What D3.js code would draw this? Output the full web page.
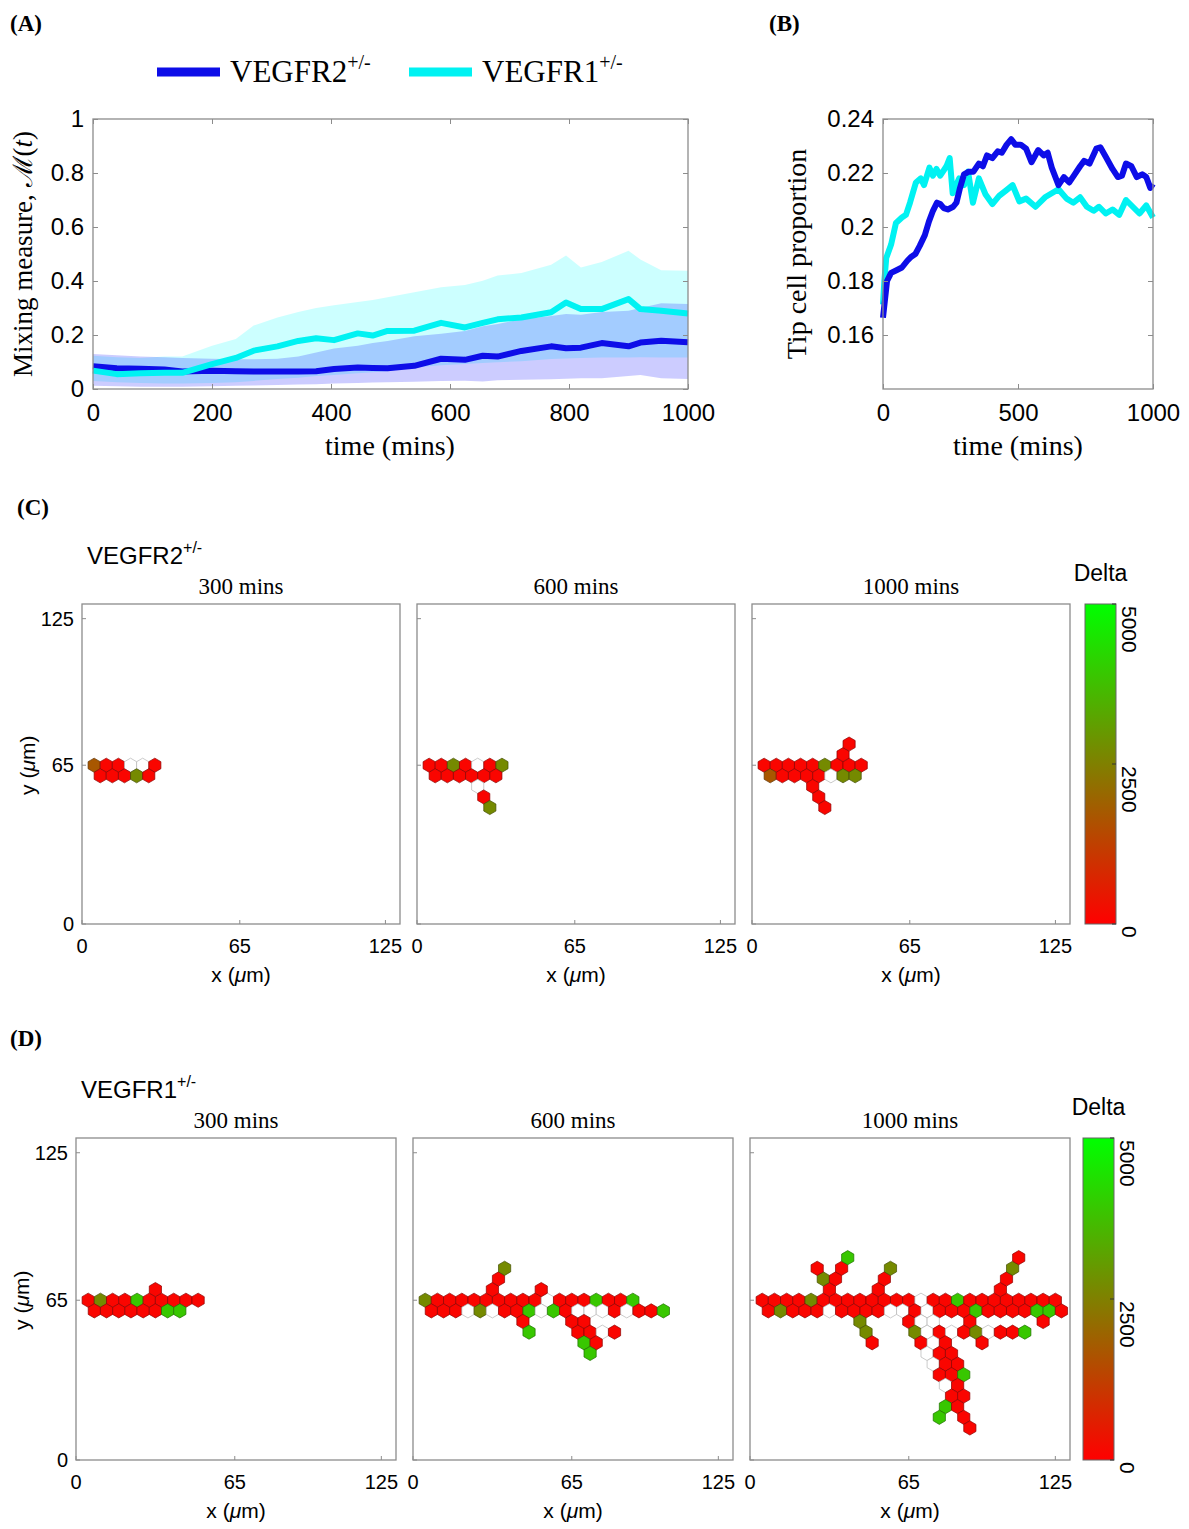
<!DOCTYPE html>
<html><head><meta charset="utf-8">
<script src="https://cdn.jsdelivr.net/npm/d3@7"></script>
<style>
body{margin:0;background:#fff;}
.sans{font-family:"Liberation Sans",Arial,sans-serif;}
.serif{font-family:"Liberation Serif","Times New Roman",serif;}
</style></head><body>
<svg id="fig" width="1189" height="1529"></svg>
<script>
// ---- panel A: mixing measure (mean and band) ----
var mixTimes = [0, 40, 80, 120, 150, 200, 240, 270, 310, 345, 375, 405, 445, 470, 495, 540, 585, 625, 655, 680, 720, 770, 795, 820, 855, 900, 920, 955, 1000];
var mixR2   = [0.084, 0.077, 0.075, 0.072, 0.065, 0.068, 0.066, 0.065, 0.065, 0.065, 0.066, 0.074, 0.080, 0.078, 0.077, 0.086, 0.112, 0.108, 0.123, 0.120, 0.141, 0.158, 0.151, 0.153, 0.170, 0.158, 0.172, 0.179, 0.173];
var mixR2Lo = [0.012, 0.010, 0.008, 0.008, 0.008, 0.010, 0.012, 0.013, 0.015, 0.017, 0.018, 0.020, 0.022, 0.024, 0.025, 0.027, 0.030, 0.031, 0.028, 0.032, 0.034, 0.036, 0.038, 0.040, 0.040, 0.048, 0.052, 0.040, 0.037];
var mixR2Hi = [0.130, 0.125, 0.120, 0.118, 0.115, 0.112, 0.110, 0.110, 0.112, 0.120, 0.135, 0.150, 0.160, 0.170, 0.178, 0.195, 0.205, 0.215, 0.232, 0.241, 0.258, 0.270, 0.278, 0.275, 0.285, 0.290, 0.300, 0.318, 0.315];
var mixR1   = [0.068, 0.055, 0.058, 0.060, 0.060, 0.092, 0.115, 0.142, 0.158, 0.178, 0.188, 0.181, 0.206, 0.198, 0.215, 0.216, 0.245, 0.228, 0.245, 0.258, 0.265, 0.284, 0.320, 0.296, 0.296, 0.333, 0.296, 0.290, 0.280];
var mixR1Lo = [0.030, 0.025, 0.022, 0.020, 0.020, 0.022, 0.025, 0.030, 0.037, 0.042, 0.048, 0.052, 0.058, 0.062, 0.066, 0.080, 0.088, 0.093, 0.096, 0.099, 0.103, 0.111, 0.113, 0.115, 0.117, 0.117, 0.118, 0.117, 0.117];
var mixR1Hi = [0.123, 0.118, 0.115, 0.120, 0.120, 0.160, 0.185, 0.235, 0.265, 0.285, 0.300, 0.310, 0.322, 0.330, 0.340, 0.358, 0.377, 0.385, 0.401, 0.420, 0.430, 0.460, 0.494, 0.450, 0.470, 0.512, 0.480, 0.440, 0.438];
var mixTicksX = [0, 200, 400, 600, 800, 1000];
var mixTicksY = [0, 0.2, 0.4, 0.6, 0.8, 1];

// ---- panel B: tip cell proportion ----
var tipTimesR2 = [0, 15, 30, 50, 70, 90, 105, 120, 136, 155, 170, 185, 200, 212, 225, 240, 260, 272, 284, 300, 318, 335, 355, 370, 385, 405, 425, 440, 458, 475, 490, 510, 530, 550, 575, 595, 610, 625, 650, 670, 690, 710, 730, 745, 765, 790, 805, 825, 850, 870, 885, 900, 920, 940, 960, 975, 990, 1000];
var tipR2 = [0.1664, 0.180, 0.183, 0.184, 0.185, 0.1875, 0.189, 0.190, 0.193, 0.197, 0.202, 0.206, 0.209, 0.2085, 0.207, 0.2065, 0.2075, 0.209, 0.214, 0.2195, 0.2205, 0.2205, 0.2235, 0.2225, 0.2265, 0.2255, 0.228, 0.2275, 0.2305, 0.2325, 0.2305, 0.2305, 0.229, 0.224, 0.2285, 0.2265, 0.2275, 0.222, 0.2155, 0.2185, 0.2165, 0.2195, 0.2225, 0.2245, 0.2235, 0.229, 0.2295, 0.226, 0.2215, 0.2185, 0.219, 0.2235, 0.2225, 0.2185, 0.2195, 0.2185, 0.2145, 0.216];
var tipTimesR1 = [0, 5, 12, 30, 48, 70, 85, 100, 122, 140, 152, 172, 185, 198, 212, 235, 247, 258, 282, 300, 315, 333, 355, 380, 405, 430, 455, 480, 505, 530, 565, 600, 625, 650, 680, 705, 730, 755, 780, 800, 825, 850, 875, 900, 925, 950, 975, 1000];
var tipR1 = [0.1713, 0.180, 0.1885, 0.1935, 0.2015, 0.2035, 0.2045, 0.209, 0.2165, 0.218, 0.2155, 0.222, 0.219, 0.2215, 0.219, 0.2225, 0.2255, 0.2125, 0.218, 0.2155, 0.2205, 0.209, 0.218, 0.212, 0.2085, 0.2115, 0.2135, 0.2155, 0.2095, 0.2105, 0.2075, 0.211, 0.2125, 0.214, 0.2105, 0.209, 0.211, 0.2075, 0.206, 0.2075, 0.205, 0.2065, 0.2045, 0.210, 0.2075, 0.205, 0.208, 0.2035];
var tipTicksX = [0, 500, 1000];
var tipTicksY = [0.16, 0.18, 0.2, 0.22, 0.24];

// ---- panels C, D: lattice snapshots ----
var snapTitles = ["300 mins", "600 mins", "1000 mins"];
var gridTicks = [0, 65, 125];
var deltaTicks = [0, 2500, 5000];
// each cell: [k, r, delta]  x = 2.5*k um, r = rows below the y = 65 row, delta null = no Delta shown
var cellsR2_300 = [[2,0,1700],[4,0,100],[6,0,100],[8,0,null],[10,0,null],[12,0,100],
  [3,1,100],[5,1,100],[7,1,100],[9,1,2700],[11,1,100]];
var cellsR2_600 = [[2,0,100],[4,0,100],[6,0,2700],[8,0,100],[10,0,null],[12,0,100],[14,0,2700],
  [3,1,100],[5,1,100],[7,1,100],[9,1,100],[11,1,100],[13,1,100],[10,2,null],[11,3,100],[12,4,2700]];
var cellsR2_1000 = [[2,0,100],[4,0,100],[6,0,100],[8,0,100],[10,0,100],[12,0,2700],[14,0,100],[16,0,100],[18,0,100],
  [3,1,1700],[5,1,100],[7,1,100],[9,1,100],[11,1,100],[13,1,null],[15,1,2700],[17,1,2700],
  [15,-1,100],[16,-2,100],[10,2,100],[11,3,100],[12,4,100]];
var cellsR1_300 = [[2,0,100],[4,0,2700],[6,0,100],[8,0,100],[10,0,3900],[12,0,100],[14,0,100],[16,0,100],[18,0,100],[20,0,100],
  [3,1,100],[5,1,100],[7,1,100],[9,1,100],[11,1,100],[13,1,100],[15,1,3900],[17,1,3900],[13,-1,100]];
var cellsR1_600 = [[2,0,2700],[4,0,100],[6,0,100],[8,0,100],[10,0,100],[12,0,100],[14,0,100],[16,0,100],[18,0,100],[20,0,100],
  [22,0,null],[24,0,100],[26,0,100],[28,0,100],[30,0,3900],[32,0,100],[34,0,100],[36,0,3900],
  [3,1,100],[5,1,100],[7,1,100],[9,1,null],[11,1,2700],[13,1,null],[15,1,100],[17,1,100],[19,1,3900],[21,1,null],
  [23,1,3900],[25,1,100],[27,1,null],[29,1,null],[31,1,null],[33,1,100],[35,1,null],[37,1,100],[39,1,100],[41,1,3900],
  [13,-1,100],[21,-1,100],[14,-2,100],[15,-3,2700],
  [18,2,100],[26,2,100],[28,2,100],[19,3,3900],[27,3,100],[29,3,100],[31,3,null],[33,3,100],[28,4,3900],[30,4,100],[29,5,3900]];
var cellsR1_1000 = [[2,0,100],[4,0,100],[6,0,100],[8,0,100],[10,0,2700],[12,0,100],[14,0,100],[16,0,100],[18,0,100],[20,0,100],
  [22,0,100],[24,0,100],[26,0,100],[28,0,null],[30,0,100],[32,0,100],[34,0,3900],[36,0,100],[38,0,100],[40,0,100],
  [42,0,100],[44,0,100],[46,0,100],[48,0,100],[50,0,100],
  [3,1,100],[5,1,2700],[7,1,100],[9,1,100],[11,1,100],[13,1,null],[15,1,100],[17,1,100],[19,1,100],[21,1,100],
  [23,1,null],[25,1,null],[27,1,100],[29,1,null],[31,1,100],[33,1,100],[35,1,100],[37,1,3900],[39,1,100],[41,1,100],
  [43,1,100],[45,1,100],[47,1,3900],[49,1,3900],[51,1,100],
  [13,-1,100],[21,-1,100],[41,-1,100],[12,-2,2700],[14,-2,100],[22,-2,100],[42,-2,100],
  [11,-3,100],[15,-3,100],[23,-3,2700],[43,-3,2700],[16,-4,3900],[44,-4,100],
  [18,2,2700],[26,2,100],[28,2,null],[30,2,null],[36,2,100],[48,2,100],
  [19,3,2700],[27,3,2700],[29,3,null],[31,3,100],[33,3,null],[35,3,100],[37,3,2700],[39,3,null],[41,3,100],[43,3,100],[45,3,3900],
  [20,4,100],[28,4,100],[30,4,null],[32,4,100],[38,4,100],
  [29,5,null],[31,5,100],[33,5,100],[30,6,null],[32,6,100],[34,6,100],[31,7,100],[33,7,100],[35,7,3900],
  [32,8,null],[34,8,100],[33,9,100],[35,9,100],[32,10,3900],[34,10,100],[31,11,3900],[35,11,100],[36,12,100]];

var svg = d3.select("#fig");
var frameColor = "#8c8c8c";
var blue = "#0d0de8", cyan = "#00f2f2";

function frame(g, x, y, xt, yt, fx, fy, fontSize) {
  var x0 = x.range()[0], x1 = x.range()[1], y0 = y.range()[0], y1 = y.range()[1];
  g.append("rect").attr("x", x0).attr("y", y1).attr("width", x1 - x0).attr("height", y0 - y1)
    .attr("fill", "none").attr("stroke", frameColor).attr("stroke-width", 1.3);
  var axes = [
    [d3.axisBottom(x).tickValues(xt).tickFormat(fx), "translate(0," + y0 + ")"],
    [d3.axisTop(x).tickValues(xt).tickFormat(""), "translate(0," + y1 + ")"],
    [d3.axisLeft(y).tickValues(yt).tickFormat(fy), "translate(" + x0 + ",0)"],
    [d3.axisRight(y).tickValues(yt).tickFormat(""), "translate(" + x1 + ",0)"]
  ];
  axes.forEach(function(a) {
    var ax = g.append("g").attr("transform", a[1])
      .call(a[0].tickSizeInner(-5).tickSizeOuter(0).tickPadding(9));
    ax.select(".domain").remove();
    ax.selectAll("line").attr("stroke", frameColor);
    ax.selectAll("text").attr("class", "sans").attr("font-size", fontSize).attr("fill", "#000");
  });
}

// panel labels
[["(A)", 10, 31], ["(B)", 769, 31], ["(C)", 17, 515], ["(D)", 10, 1046]].forEach(function(p) {
  svg.append("text").attr("class", "serif").attr("font-weight", "bold").attr("font-size", 23)
    .attr("x", p[1]).attr("y", p[2]).text(p[0]);
});

// legend
[[blue, 157, "VEGFR2"], [cyan, 409, "VEGFR1"]].forEach(function(l) {
  svg.append("line").attr("x1", l[1]).attr("x2", l[1] + 63).attr("y1", 72).attr("y2", 72)
    .attr("stroke", l[0]).attr("stroke-width", 9);
  var t = svg.append("text").attr("class", "serif").attr("font-size", 31).attr("x", l[1] + 73).attr("y", 82);
  t.append("tspan").text(l[2]);
  t.append("tspan").attr("font-size", 20).attr("dy", -13).text("+/-");
});

// ---- panel A ----
(function() {
  var x = d3.scaleLinear().domain([0, 1000]).range([93, 688]);
  var y = d3.scaleLinear().domain([0, 1]).range([389, 119]);
  var g = svg.append("g");
  var band = function(lo, hi) {
    return d3.area().x(function(d, i) { return x(mixTimes[i]); })
      .y0(function(d, i) { return y(lo[i]); }).y1(function(d, i) { return y(hi[i]); });
  };
  var line = function(v) {
    return d3.line().x(function(d, i) { return x(mixTimes[i]); }).y(function(d, i) { return y(v[i]); });
  };
  g.append("path").attr("d", band(mixR1Lo, mixR1Hi)(mixTimes)).attr("fill", "#00ffff").attr("fill-opacity", 0.2);
  g.append("path").attr("d", band(mixR2Lo, mixR2Hi)(mixTimes)).attr("fill", "#0000ff").attr("fill-opacity", 0.2);
  g.append("path").attr("d", line(mixR2)(mixTimes)).attr("fill", "none").attr("stroke", blue)
    .attr("stroke-width", 6).attr("stroke-linejoin", "round");
  g.append("path").attr("d", line(mixR1)(mixTimes)).attr("fill", "none").attr("stroke", cyan)
    .attr("stroke-width", 6).attr("stroke-linejoin", "round");
  frame(g, x, y, mixTicksX, mixTicksY, d3.format("d"), function(d) { return String(d); }, 24);
  g.selectAll("g.tick text").filter(function() { return this.getAttribute("dy") === "0.71em"; }).attr("dy", "0.95em");
  g.append("text").attr("class", "serif").attr("font-size", 28).attr("text-anchor", "middle")
    .attr("x", 390).attr("y", 455).text("time (mins)");
  var yl = g.append("text").attr("class", "serif").attr("font-size", 27).attr("text-anchor", "middle")
    .attr("transform", "translate(32,254) rotate(-90)");
  yl.append("tspan").text("Mixing measure, ");
  yl.append("tspan").text("\u2133");
  yl.append("tspan").text("(");
  yl.append("tspan").attr("font-style", "italic").text("t");
  yl.append("tspan").text(")");
})();

// ---- panel B ----
(function() {
  var x = d3.scaleLinear().domain([0, 1000]).range([883, 1153]);
  var y = d3.scaleLinear().domain([0.14, 0.24]).range([389, 119]);
  var g = svg.append("g");
  var line = function(ts) {
    return d3.line().x(function(d, i) { return x(ts[i]); }).y(function(d) { return y(d); });
  };
  g.append("path").attr("d", line(tipTimesR1)(tipR1)).attr("fill", "none").attr("stroke", cyan)
    .attr("stroke-width", 6).attr("stroke-linejoin", "round");
  g.append("path").attr("d", line(tipTimesR2)(tipR2)).attr("fill", "none").attr("stroke", blue)
    .attr("stroke-width", 6).attr("stroke-linejoin", "round");
  frame(g, x, y, tipTicksX, tipTicksY, d3.format("d"), function(d) { return String(+d.toFixed(2)); }, 24);
  g.selectAll("g.tick text").filter(function() { return this.getAttribute("dy") === "0.71em"; }).attr("dy", "0.95em");
  g.append("text").attr("class", "serif").attr("font-size", 28).attr("text-anchor", "middle")
    .attr("x", 1018).attr("y", 455).text("time (mins)");
  g.append("text").attr("class", "serif").attr("font-size", 28).attr("text-anchor", "middle")
    .attr("transform", "translate(806,254) rotate(-90)").text("Tip cell proportion");
})();

// ---- panels C, D ----
var deltaColor = d3.scaleLinear().domain([0, 5000]).range(["#ff0000", "#00ff00"]).interpolate(d3.interpolateRgb);
var rowStep = 5 * Math.sqrt(3) / 2, hexR = 5 / Math.sqrt(3);

function snapshot(left, top, w, h, cells, title, first) {
  var x = d3.scaleLinear().domain([0, 131]).range([left, left + w]);
  var y = d3.scaleLinear().domain([0, 131]).range([top + h, top]);
  var g = svg.append("g");
  var hex = function(c) {
    var cx = 2.5 * c[0], cy = 65 - c[1] * rowStep;
    var pts = d3.range(6).map(function(i) {
      var a = Math.PI / 180 * (90 + 60 * i);
      return [x(cx + hexR * Math.cos(a)), y(cy + hexR * Math.sin(a))];
    });
    return "M" + pts.join("L") + "Z";
  };
  g.selectAll("path.cell").data(cells).enter().append("path").attr("class", "cell")
    .attr("d", hex)
    .attr("fill", function(c) { return c[2] === null ? "#ffffff" : deltaColor(c[2]); })
    .attr("stroke", function(c) { return c[2] === null ? "#b5b5b5" : d3.color(deltaColor(c[2])).darker(1.6); })
    .attr("stroke-width", 0.7);
  g.append("rect").attr("x", left).attr("y", top).attr("width", w).attr("height", h)
    .attr("fill", "none").attr("stroke", frameColor).attr("stroke-width", 1.3);
  gridTicks.forEach(function(t) {
    g.append("line").attr("x1", x(t)).attr("x2", x(t)).attr("y1", top + h).attr("y2", top + h - 4).attr("stroke", frameColor);
    g.append("line").attr("x1", left).attr("x2", left + 4).attr("y1", y(t)).attr("y2", y(t)).attr("stroke", frameColor);
    g.append("text").attr("class", "sans").attr("font-size", 20).attr("text-anchor", "middle")
      .attr("x", x(t)).attr("y", top + h + 29).text(t);
    if (first) {
      g.append("text").attr("class", "sans").attr("font-size", 20).attr("text-anchor", "end")
        .attr("x", left - 8).attr("y", y(t) + 7).text(t);
    }
  });
  g.append("text").attr("class", "serif").attr("font-size", 23).attr("text-anchor", "middle")
    .attr("x", left + w / 2).attr("y", top - 10).text(title);
  var xl = g.append("text").attr("class", "sans").attr("font-size", 21).attr("text-anchor", "middle")
    .attr("x", left + w / 2).attr("y", top + h + 58);
  xl.append("tspan").text("x (");
  xl.append("tspan").attr("font-style", "italic").text("\u03bc");
  xl.append("tspan").text("m)");
  if (first) {
    var yl = g.append("text").attr("class", "sans").attr("font-size", 21).attr("text-anchor", "middle")
      .attr("transform", "translate(" + (left - 47) + "," + y(65) + ") rotate(-90)");
    yl.append("tspan").text("y (");
    yl.append("tspan").attr("font-style", "italic").text("\u03bc");
    yl.append("tspan").text("m)");
  }
}

var grad = svg.append("defs").append("linearGradient").attr("id", "deltaGrad")
  .attr("x1", 0).attr("y1", 1).attr("x2", 0).attr("y2", 0);
[0, 0.25, 0.5, 0.75, 1].forEach(function(f) {
  grad.append("stop").attr("offset", f).attr("stop-color", deltaColor(f * 5000));
});

function colorbar(left, top, w, h) {
  var y = d3.scaleLinear().domain([0, 5000]).range([top + h, top]);
  var g = svg.append("g");
  g.append("rect").attr("x", left).attr("y", top).attr("width", w).attr("height", h)
    .attr("fill", "url(#deltaGrad)").attr("stroke", "#666").attr("stroke-width", 1);
  deltaTicks.forEach(function(t) {
    g.append("line").attr("x1", left + w - 4).attr("x2", left + w).attr("y1", y(t)).attr("y2", y(t)).attr("stroke", "#333");
    g.append("text").attr("class", "sans").attr("font-size", 21)
      .attr("transform", "translate(" + (left + w + 6) + "," + (y(t) + 2) + ") rotate(90)").text(t);
  });
  g.append("text").attr("class", "sans").attr("font-size", 23).attr("text-anchor", "middle")
    .attr("x", left + w / 2).attr("y", top - 23).text("Delta");
}

function rowLabel(x, y, name) {
  var t = svg.append("text").attr("class", "sans").attr("font-size", 24).attr("x", x).attr("y", y);
  t.append("tspan").text(name);
  t.append("tspan").attr("font-size", 16).attr("dy", -11).text("+/-");
}

rowLabel(87, 564, "VEGFR2");
[[82, cellsR2_300], [417, cellsR2_600], [752, cellsR2_1000]].forEach(function(p, i) {
  snapshot(p[0], 604, 318, 320, p[1], snapTitles[i], i === 0);
});
colorbar(1085, 604, 31, 320);

rowLabel(81, 1098, "VEGFR1");
[[76, cellsR1_300], [413, cellsR1_600], [750, cellsR1_1000]].forEach(function(p, i) {
  snapshot(p[0], 1138, 320, 322, p[1], snapTitles[i], i === 0);
});
colorbar(1083, 1138, 31, 322);
</script>
</body></html>
